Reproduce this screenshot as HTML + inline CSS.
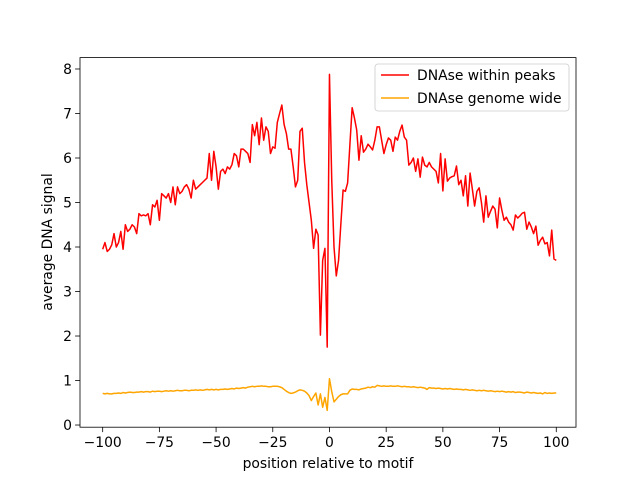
<!DOCTYPE html>
<html><head><meta charset="utf-8"><style>
html,body{margin:0;padding:0;background:#fff}
svg{display:block;font-family:"DejaVu Sans","Liberation Sans",sans-serif}
</style></head><body>
<svg id="chart" width="640" height="480" viewBox="0 0 640 480" xmlns="http://www.w3.org/2000/svg">
<rect width="640" height="480" fill="#fff"/>
<g id="plot"></g>
<rect x="80" y="57.6" width="496" height="369.6" fill="none" stroke="#000" stroke-width="0.8"/>
<g id="xticks"></g><g id="yticks"></g>
<text x="328" y="468" font-size="13.9" text-anchor="middle">position relative to motif</text>
<text transform="translate(52,242) rotate(-90)" font-size="13.9" text-anchor="middle">average DNA signal</text>
<g>
<rect x="375" y="64" width="194" height="47" rx="3" fill="#fff" fill-opacity="0.8" stroke="#ccc" stroke-width="0.8"/>
<line x1="381" y1="75" x2="409" y2="75" stroke="red" stroke-width="1.5"/>
<text x="417" y="80" font-size="13.9">DNAse within peaks</text>
<line x1="381" y1="98" x2="409" y2="98" stroke="orange" stroke-width="1.5"/>
<text x="417" y="103" font-size="13.9">DNAse genome wide</text>
</g>
</svg>
<script>
const peaks=[3.95,4.1,3.9,3.95,4.05,4.3,4.0,4.1,4.35,3.95,
4.5,4.35,4.4,4.5,4.45,4.3,4.75,4.7,4.72,4.7,
4.75,4.5,4.95,4.9,5.05,4.6,5.2,5.15,5.1,5.2,
5.0,5.35,4.95,5.35,5.2,5.25,5.35,5.4,5.3,5.1,
5.5,5.3,5.35,5.4,5.45,5.5,5.55,6.1,5.5,6.15,
5.8,5.3,5.7,5.75,5.65,5.8,5.75,5.85,6.1,6.05,
5.8,6.2,6.2,6.15,6.1,5.9,6.75,6.5,6.8,6.3,
6.9,6.4,6.7,6.6,6.1,6.25,6.22,6.8,7.0,7.19,
6.75,6.55,6.2,6.2,5.8,5.35,5.5,6.6,6.67,5.9,
5.4,5.0,4.6,3.97,4.4,4.27,2.02,3.7,3.97,1.75,
7.88,5.5,4.0,3.35,3.7,4.5,5.28,5.25,5.44,6.3,
7.13,6.9,6.63,5.95,6.5,6.13,6.2,6.31,6.25,6.18,
6.4,6.7,6.7,6.4,6.1,6.3,6.45,6.4,6.15,6.47,
6.4,6.6,6.74,6.47,6.4,5.84,5.9,6.0,5.7,5.98,
5.57,6.02,5.84,5.8,5.9,5.8,5.75,5.7,5.44,6.1,
5.26,5.98,5.48,5.55,5.58,5.6,5.82,5.4,5.5,5.15,
5.6,4.92,5.66,5.3,4.92,5.25,5.33,5.0,4.56,5.15,
4.67,4.8,4.92,4.85,4.43,5.1,4.83,4.6,4.67,4.56,
4.5,4.38,4.72,4.65,4.7,4.76,4.78,4.4,4.56,4.45,
4.3,4.47,4.04,4.15,4.22,4.07,4.1,3.8,4.38,3.73,
3.7];
const genome=[.71,.70,.71,.70,.70,.71,.71,.72,.71,.73,
.72,.73,.74,.73,.73,.74,.74,.75,.74,.75,
.75,.74,.76,.75,.76,.76,.75,.76,.77,.76,
.77,.76,.77,.78,.77,.77,.78,.78,.77,.78,
.78,.79,.78,.79,.78,.79,.80,.79,.80,.79,
.80,.79,.80,.80,.81,.80,.81,.82,.81,.83,
.82,.83,.84,.83,.85,.86,.87,.86,.87,.87,
.88,.87,.87,.86,.86,.87,.87,.87,.86,.84,
.80,.76,.73,.71,.72,.74,.77,.79,.78,.76,
.72,.66,.55,.64,.72,.45,.70,.40,.62,.33,
1.04,.75,.52,.58,.64,.68,.70,.70,.70,.78,
.81,.80,.80,.79,.81,.82,.83,.85,.84,.86,
.85,.89,.88,.87,.88,.87,.87,.88,.87,.87,
.88,.87,.86,.87,.86,.86,.85,.86,.85,.84,
.85,.84,.83,.80,.84,.83,.83,.82,.83,.82,
.81,.82,.81,.82,.81,.80,.81,.80,.80,.79,
.80,.79,.78,.79,.78,.77,.78,.77,.78,.77,
.76,.77,.76,.75,.76,.75,.76,.75,.74,.75,
.74,.75,.73,.74,.74,.73,.72,.74,.73,.72,
.73,.72,.71,.72,.70,.73,.71,.72,.71,.72,
.72];
const xStart=-100;
const xTickLabels=[-100,-75,-50,-25,0,25,50,75,100];
const yTickLabels=[0,1,2,3,4,5,6,7,8];

const NS="http://www.w3.org/2000/svg";
const X0=80,X1=576,Y0=427.2,Y1=57.6;
const xmin=-110,xmax=108.7,ymin=-0.049,ymax=8.256;
function sx(v){return X0+(v-xmin)/(xmax-xmin)*(X1-X0);}
function sy(v){return Y0-(v-ymin)/(ymax-ymin)*(Y0-Y1);}
function mk(tag,attrs,parent){const e=document.createElementNS(NS,tag);for(const k in attrs)e.setAttribute(k,attrs[k]);parent.appendChild(e);return e;}

const plot=document.getElementById('plot');
function drawLine(arr,color,name){
  const d=arr.map((v,i)=>(i?'L':'M')+sx(xStart+i).toFixed(2)+' '+sy(v).toFixed(2)).join(' ');
  const p=mk('path',{d:d,fill:'none',stroke:color,'stroke-width':1.5,'stroke-linejoin':'round'},plot);
  
  
}
drawLine(peaks,'red','line-dnase-within-peaks');
drawLine(genome,'orange','line-dnase-genome-wide');

const xg=document.getElementById('xticks');
xTickLabels.forEach(t=>{
  const x=sx(t);
  const l=mk('line',{x1:x,x2:x,y1:Y0,y2:Y0+4.9,stroke:'#000','stroke-width':0.8},xg);
  
  
  const tx=mk('text',{x:x,y:Y0+20,'font-size':13.9,'text-anchor':'middle'},xg);
  
  
  tx.textContent=(t<0?'\u2212'+(-t):t);
});
const yg=document.getElementById('yticks');
yTickLabels.forEach(t=>{
  const y=sy(t);
  const l=mk('line',{x1:X0-4.9,x2:X0,y1:y,y2:y,stroke:'#000','stroke-width':0.8},yg);
  
  
  const tx=mk('text',{x:X0-8,y:y+5,'font-size':13.9,'text-anchor':'end'},yg);
  
  
  tx.textContent=t;
});
</script>
</body></html>
